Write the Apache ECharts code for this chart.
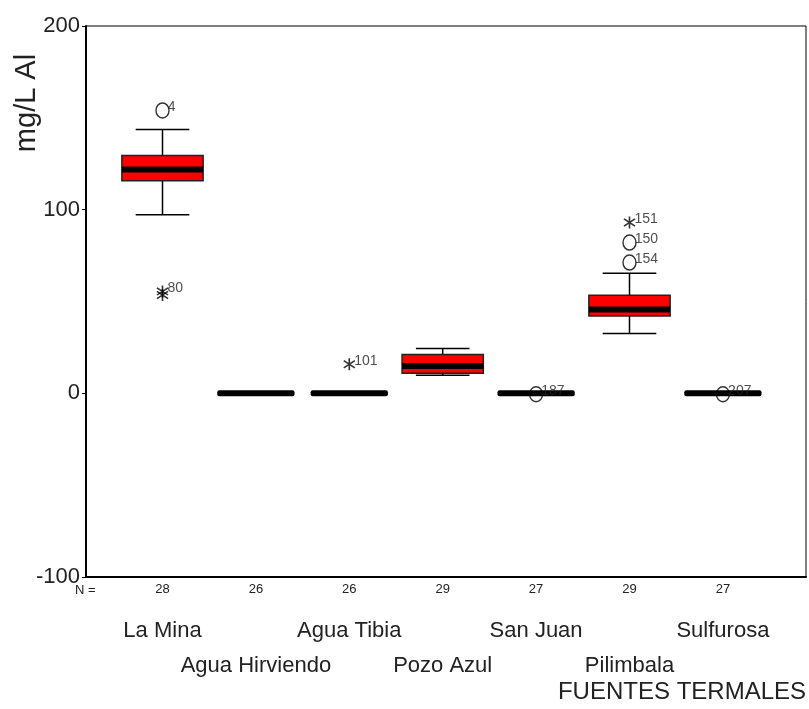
<!DOCTYPE html>
<html>
<head>
  <meta charset="UTF-8">
  <title>FUENTES TERMALES - mg/L Al</title>
  <style>
    * { margin: 0; padding: 0; }
    body { background: #fff; }
    #chart { width: 809px; height: 709px; }
  </style>
  <script src="https://cdn.jsdelivr.net/npm/echarts@6/dist/echarts.min.js"></script>
</head>
<body>
  <div id="chart"></div>
  <script>
    // fuentes termales y numero de muestras
    const stations = ['La Mina', 'Agua Hirviendo', 'Agua Tibia', 'Pozo Azul', 'San Juan', 'Pilimbala', 'Sulfurosa'];
    const counts = [28, 26, 26, 29, 27, 29, 27];

    // [bigote inferior, Q1, mediana, Q3, bigote superior]
    const boxStats = [
      [97.3, 115.8, 121.9, 129.5, 143.7],
      [0, 0, 0, 0, 0],
      [0, 0, 0, 0, 0],
      [9.8, 10.9, 14.9, 21.1, 24.4],
      [0, 0, 0, 0, 0],
      [32.6, 42.1, 45.6, 53.4, 65.4],
      [0, 0, 0, 0, 0]
    ];

    // valores atipicos (circulos) y extremos (asteriscos): [indice, valor, caso]
    const outliers = [[0, 154, '4'], [4, -0.5, '187'], [5, 82.1, '150'], [5, 71.2, '154'], [6, -0.5, '207']];
    const extremes = [[0, 55.5, '80'], [0, 53.5, ''], [2, 15.8, '101'], [5, 93, '151']];

    const yMin = -100, yMax = 200, yStep = 100;

    const font = 'Liberation Sans';
    const starPath = 'path://M4.4,0L5.6,0L5.6,10L4.4,10Z M1.3,1.5L9.4,7.5L8.7,8.5L0.6,2.5Z M0.6,7.5L8.7,1.5L9.4,2.5L1.3,8.5Z';

    const chart = echarts.init(document.getElementById('chart'));

    function renderBox(params, api) {
      const i = api.value(0);
      const lo = api.coord([i, api.value(1)]);
      const q1 = api.coord([i, api.value(2)]);
      const md = api.coord([i, api.value(3)]);
      const q3 = api.coord([i, api.value(4)]);
      const hi = api.coord([i, api.value(5)]);
      const bw = api.size([1, 0])[0] * 0.87;
      const cw = bw * 0.66;
      const cx = md[0];
      if (hi[1] === lo[1]) {
        return {
          type: 'rect',
          shape: { x: cx - bw / 2 + 2, y: md[1] - 3, width: bw - 4, height: 6, r: 2 },
          style: { fill: '#000' }
        };
      }
      const line = { stroke: '#000', lineWidth: 1.5 };
      return {
        type: 'group',
        children: [
          { type: 'line', shape: { x1: cx, y1: hi[1], x2: cx, y2: q3[1] }, style: line },
          { type: 'line', shape: { x1: cx, y1: q1[1], x2: cx, y2: lo[1] }, style: line },
          { type: 'line', shape: { x1: cx - cw / 2, y1: hi[1], x2: cx + cw / 2, y2: hi[1] }, style: line },
          { type: 'line', shape: { x1: cx - cw / 2, y1: lo[1], x2: cx + cw / 2, y2: lo[1] }, style: line },
          { type: 'rect', shape: { x: cx - bw / 2, y: q3[1], width: bw, height: q1[1] - q3[1] },
            style: { fill: '#ff0000', stroke: '#222', lineWidth: 1.5 } },
          { type: 'rect', shape: { x: cx - bw / 2, y: md[1] - 3, width: bw, height: 6 },
            style: { fill: '#000' } }
        ]
      };
    }

    chart.setOption({
      animation: false,
      grid: [
        { left: 86, right: 3, top: 26, bottom: 132, show: true, borderColor: '#000', borderWidth: 1 },
        { left: 115.8, right: 39.4, top: 26, bottom: 132 }
      ],
      xAxis: [
        { gridIndex: 0, type: 'value', min: 0, max: 1,
          axisLine: { onZero: false, lineStyle: { color: '#000', width: 2 } },
          axisTick: { show: false }, axisLabel: { show: false }, splitLine: { show: false } },
        { gridIndex: 1, type: 'category', data: stations,
          axisLine: { show: false },
          axisTick: { alignWithLabel: true, length: 6, lineStyle: { color: '#000', width: 3 } },
          axisLabel: { interval: 0, margin: 6, fontSize: 13, fontFamily: font, color: '#222',
            formatter: (v, i) => String(counts[i]) } },
        { gridIndex: 1, type: 'category', data: stations, position: 'bottom', offset: 34,
          axisLine: { show: false }, axisTick: { show: false },
          axisLabel: { interval: 0, margin: 2, fontSize: 22, fontFamily: font, color: '#222', lineHeight: 35,
            formatter: (v, i) => (i % 2 ? '\n' + v : v) } }
      ],
      yAxis: [
        { gridIndex: 0, type: 'value', min: yMin, max: yMax, interval: yStep,
          axisLine: { show: true, lineStyle: { color: '#000', width: 2 } },
          axisTick: { show: true, length: 4, lineStyle: { color: '#000' } },
          splitLine: { show: false },
          axisLabel: { fontSize: 22, fontFamily: font, color: '#222', margin: 6 } },
        { gridIndex: 1, type: 'value', min: yMin, max: yMax, interval: yStep, show: false }
      ],
      graphic: [
        { type: 'text', x: 27, y: 103, rotation: Math.PI / 2,
          style: { text: 'mg/L Al', fontSize: 29, fontFamily: font, fill: '#222', align: 'center', verticalAlign: 'middle' } },
        { type: 'text', x: 75, y: 590,
          style: { text: 'N =', fontSize: 13, fontFamily: font, fill: '#222', align: 'left', verticalAlign: 'middle' } },
        { type: 'text', x: 806, y: 692,
          style: { text: 'FUENTES TERMALES', fontSize: 24, fontFamily: font, fill: '#222', align: 'right', verticalAlign: 'middle' } }
      ],
      series: [
        {
          type: 'custom', xAxisIndex: 1, yAxisIndex: 1,
          renderItem: renderBox,
          data: boxStats.map((b, i) => [i].concat(b))
        },
        {
          type: 'scatter', xAxisIndex: 1, yAxisIndex: 1,
          symbol: 'circle', symbolSize: [13, 15],
          itemStyle: { color: 'rgba(0,0,0,0)', borderColor: '#000', borderWidth: 1.5 },
          label: { show: true, position: 'right', distance: 1, offset: [-3, -3], fontSize: 14, fontFamily: font, color: '#222',
            formatter: p => p.data[2] },
          data: outliers
        },
        {
          type: 'scatter', xAxisIndex: 1, yAxisIndex: 1,
          symbol: starPath, symbolSize: 12,
          itemStyle: { color: '#000' },
          label: { show: true, position: 'right', distance: 1, offset: [-2, -3], fontSize: 14, fontFamily: font, color: '#222',
            formatter: p => p.data[2] },
          data: extremes
        }
      ]
    });
  </script>
</body>
</html>
